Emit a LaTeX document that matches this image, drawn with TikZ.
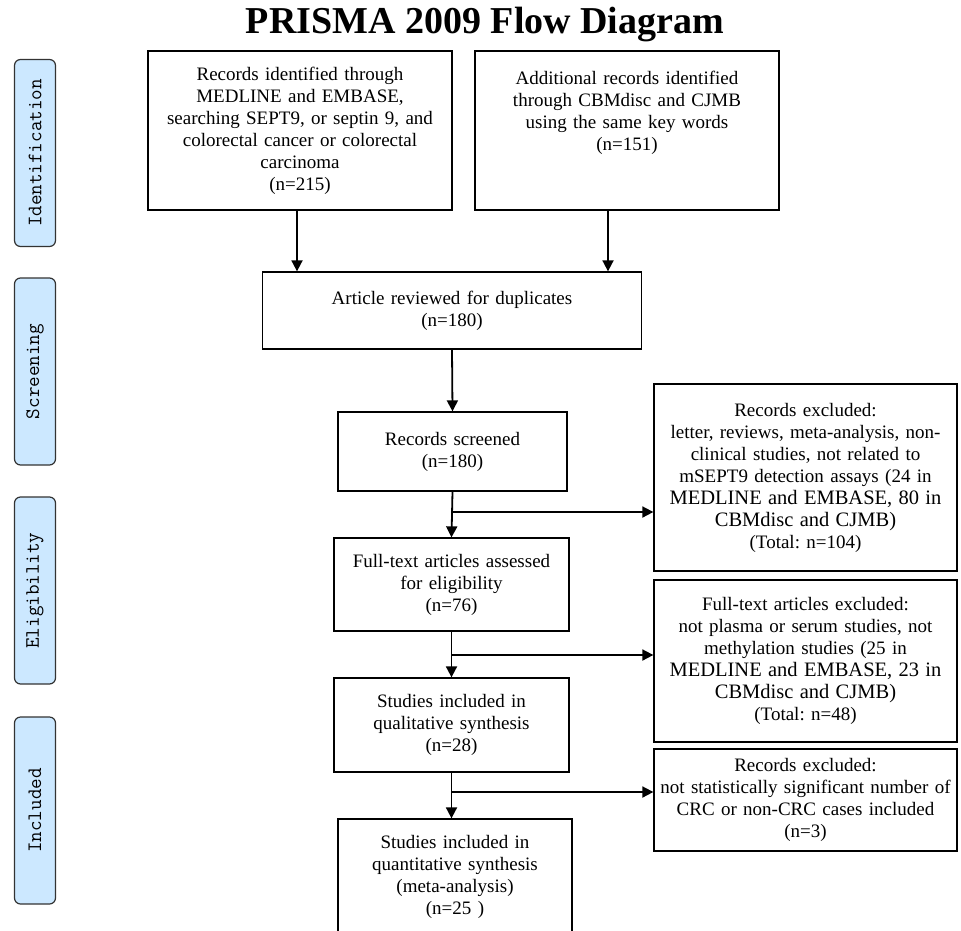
\documentclass[tikz,border=0pt]{standalone}
\usepackage{fontspec}
\setmainfont{Liberation Serif}
\usetikzlibrary{arrows.meta,calc}

\definecolor{stagefill}{RGB}{204,232,255}

\tikzset{
  box/.style={draw, line width=1.3pt, align=center, inner sep=2pt,
    font=\frenchspacing\fontsize{19}{22}\selectfont},
  stage/.style={draw=black!80, fill=stagefill, rounded corners=6pt, line width=1.2pt,
    rotate=90, minimum width=187pt, minimum height=41pt,
    font=\ttfamily\fontsize{20.5}{22}\selectfont},
  arr/.style={line width=1.8pt, -{Triangle[length=11pt,width=11pt]}},
}
\newcommand{\wideline}[1]{{\fontsize{20.5}{22}\selectfont #1}}

\begin{document}
\begin{tikzpicture}[x=1pt,y=-1pt]
\useasboundingbox (0,0) rectangle (961,930);

% Title
\node (title) at (485,25) {\fontsize{38}{44}\selectfont\bfseries PRISMA 2009 Flow Diagram};

% Stage labels
\node[stage] (sIdent) at (35,153) {Identification};
\node[stage] (sScreen) at (35,371.5) {Screening};
\node[stage] (sElig) at (35,590.5) {Eligibility};
\node[stage] (sIncl) at (35,810.5) {Included};

% Identification
\node[box, text width=296pt, minimum width=304pt, minimum height=159pt] (idA) at (300,130.5)
  {Records identified through\\MEDLINE and EMBASE,\\searching SEPT9, or septin 9, and\\colorectal cancer or colorectal\\carcinoma\\(n=215)};
\node[box, text width=296pt, minimum width=304pt, minimum height=159pt] (idB) at (627,130.5)
  {Additional records identified\\through CBMdisc and CJMB\\using the same key words\\(n=151)\\[18pt]\mbox{}};

% Main column
\node[box, text width=370pt, minimum width=379pt, minimum height=77pt] (dup) at (452,310.5)
  {Article reviewed for duplicates\\(n=180)};
\node[box, text width=222pt, minimum width=229pt, minimum height=79pt] (scr) at (452.5,451.5)
  {Records screened\\(n=180)};
\node[box, text width=228pt, minimum width=235pt, minimum height=93pt] (full) at (451.5,584.5)
  {Full-text articles assessed\\for eligibility\\(n=76)};
\node[box, text width=228pt, minimum width=235pt, minimum height=94pt] (qual) at (451.5,725)
  {Studies included in\\qualitative synthesis\\(n=28)};
\node[box, text width=228pt, minimum width=234pt, minimum height=116pt] (quant) at (455,877)
  {Studies included in\\quantitative synthesis\\(meta-analysis)\\(n=25 )};

% Exclusions
\node[box, text width=296pt, minimum width=303pt, minimum height=187pt] (exA) at (805.5,477.5)
  {Records excluded:\\letter, reviews, meta-analysis, non-\\clinical studies, not related to\\mSEPT9 detection assays (24 in\\\wideline{MEDLINE and EMBASE, 80 in}\\\wideline{CBMdisc and CJMB)}\\(Total: n=104)};
\node[box, text width=296pt, minimum width=303pt, minimum height=162pt] (exB) at (805.5,661)
  {Full-text articles excluded:\\not plasma or serum studies, not\\methylation studies (25 in\\\wideline{MEDLINE and EMBASE, 23 in}\\\wideline{CBMdisc and CJMB)}\\(Total: n=48)};
\node[box, text width=296pt, minimum width=303pt, minimum height=102pt] (exC) at (805.5,800)
  {Records excluded:\\not statistically significant number of\\CRC or non-CRC cases included\\(n=3)};

% Arrows
\draw[arr] ($(idA.south)+(-3,0)$) -- ($(idA.south |- dup.north)+(-3,0)$);
\draw[arr] ($(idB.south)+(-19,0)$) -- ($(idB.south |- dup.north)+(-19,0)$);
\draw[arr] (dup.south) -- (scr.north);
\draw[arr] (scr.south) -- (full.north);
\draw[arr] (full.south) -- (qual.north);
\draw[arr] (qual.south) -- (qual.south |- quant.north);

\coordinate (brA) at (452,512);
\coordinate (brB) at (452,655);
\coordinate (brC) at (452,792);
\draw[arr] (brA) -- (brA -| exA.west);
\draw[arr] (brB) -- (brB -| exB.west);
\draw[arr] (brC) -- (brC -| exC.west);

\end{tikzpicture}
\end{document}
